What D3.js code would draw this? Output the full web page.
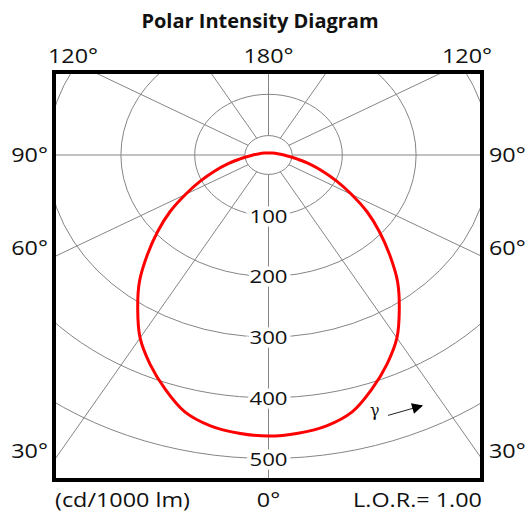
<!DOCTYPE html>
<meta charset="utf-8">
<style>
body { margin: 0; background: #fff; }
text { font-family: "Open Sans", sans-serif; fill: #111; }
.grid { fill: none; stroke: #858585; stroke-width: 1px; }
.curve { fill: none; stroke: #f00; stroke-width: 3px; }
.frame { fill: none; stroke: #000; stroke-width: 4px; }
.rlabel { paint-order: stroke; stroke: #fff; stroke-width: 7px; }
</style>
<body>
<div id="chart"></div>
<script src="https://d3js.org/d3.v7.min.js"></script>
<script>
// luminous intensity (cd/1000 lm) per gamma angle, same on both half planes
var gammas    = [0, 5, 10, 15, 20, 25, 30, 35, 40, 45, 50, 55, 60, 65, 70, 75, 80, 85, 90, 100, 120, 150, 180];
var intensity = [463, 460, 453, 438, 410, 380, 348, 309, 272, 232, 196, 163, 130, 102, 78, 58, 40, 28.5, 21, 12.5, 6.2, 3.8, 3.3];

// grid
var rings = [32, 100, 200, 300, 400, 500];
var ringLabels = [100, 200, 300, 400, 500];
var spokes = d3.range(0, 360, 30);

// angle tick labels around the frame
var topLabels   = ["120°", "180°", "120°"];
var sideLabels  = ["90°", "60°", "30°"];

var W = 529, H = 514;
var cx = 268.5, cy = 155;
var frame = {left: 54, right: 482, top: 72, bottom: 480};
var squeeze = 1.17;   // picture is stretched sideways

// one scale per direction, both in cd/1000 lm
var x = d3.scaleLinear().domain([0, 100]).range([cx, cx + 73.8]);
var y = d3.scaleLinear().domain([0, 100]).range([cy, cy + 60.7]);

function px(g, r) { return x(r * Math.sin(g * Math.PI / 180)); }
function py(g, r) { return y(r * Math.cos(g * Math.PI / 180)); }

var svg = d3.select("#chart").append("svg")
    .attr("width", W)
    .attr("height", H);

svg.append("clipPath").attr("id", "clip")
  .append("rect")
    .attr("x", frame.left).attr("y", frame.top)
    .attr("width", frame.right - frame.left)
    .attr("height", frame.bottom - frame.top);

var grid = svg.append("g").attr("clip-path", "url(#clip)");

grid.selectAll("ellipse")
    .data(rings)
  .enter().append("ellipse")
    .attr("class", "grid")
    .attr("cx", x(0)).attr("cy", y(0))
    .attr("rx", function(d) { return x(d) - x(0); })
    .attr("ry", function(d) { return y(d) - y(0); });

grid.selectAll("line")
    .data(spokes)
  .enter().append("line")
    .attr("class", "grid")
    .attr("x1", function(d) { return px(d, rings[0]); })
    .attr("y1", function(d) { return py(d, rings[0]); })
    .attr("x2", function(d) { return px(d, 1000); })
    .attr("y2", function(d) { return py(d, 1000); });

// the curve: right half going up, then left half coming back down
var pts = [];
gammas.forEach(function(g, i) { pts.push([g, intensity[i]]); });
for (var i = gammas.length - 2; i > 0; i--) pts.push([-gammas[i], intensity[i]]);

var line = d3.line()
    .x(function(d) { return px(d[0], d[1]); })
    .y(function(d) { return py(d[0], d[1]); })
    .curve(d3.curveCatmullRomClosed);

svg.append("path")
    .datum(pts)
    .attr("class", "curve")
    .attr("d", line);

// text drawn stretched sideways like the rest of the picture
function stext(sel, tx, ty, anchor, size, txt) {
  return sel.append("text")
      .attr("transform", "translate(" + tx + "," + ty + ") scale(" + squeeze + ",1)")
      .attr("text-anchor", anchor)
      .style("font-size", size + "px")
      .text(txt);
}

// value labels along the 0 degree spoke
ringLabels.forEach(function(r) {
  stext(svg, x(0), y(r) + 7, "middle", 19, r).attr("class", "rlabel");
});

svg.append("rect")
    .attr("class", "frame")
    .attr("x", frame.left).attr("y", frame.top)
    .attr("width", frame.right - frame.left)
    .attr("height", frame.bottom - frame.top);

// gamma arrow
svg.append("defs").append("marker")
    .attr("id", "head")
    .attr("viewBox", "0 0 10 10")
    .attr("refX", 9).attr("refY", 5)
    .attr("markerUnits", "userSpaceOnUse")
    .attr("markerWidth", 14).attr("markerHeight", 11)
    .attr("orient", "auto")
  .append("path").attr("d", "M0,0L10,5L0,10z").attr("fill", "#000");

svg.append("line")
    .attr("x1", x(162)).attr("y1", y(429))
    .attr("x2", x(208)).attr("y2", y(413))
    .attr("stroke", "#222").attr("stroke-width", 1)
    .attr("marker-end", "url(#head)");
svg.append("text")
    .attr("x", x(144)).attr("y", y(430))
    .attr("text-anchor", "middle")
    .style("font-family", "DejaVu Serif")
    .style("font-size", "16px")
    .text("γ");

// labels round the frame
stext(svg, 73, 63, "middle", 20, topLabels[0]);
stext(svg, x(0), 63, "middle", 20, topLabels[1]);
stext(svg, 467, 63, "middle", 20, topLabels[2]);

var sideY = [162, 255, 458];
sideLabels.forEach(function(t, i) {
  stext(svg, 48, sideY[i], "end", 20, t);
  stext(svg, 489, sideY[i], "start", 20, t);
});

stext(svg, x(0), 507, "middle", 20, "0°");
stext(svg, 55, 507, "start", 20, "(cd/1000 lm)");
stext(svg, 482, 507, "end", 20, "L.O.R.= 1.00");

svg.append("text")
    .attr("x", 260).attr("y", 28)
    .attr("text-anchor", "middle")
    .style("font-size", "20px")
    .style("font-weight", "bold")
    .text("Polar Intensity Diagram");
</script>
</body>
